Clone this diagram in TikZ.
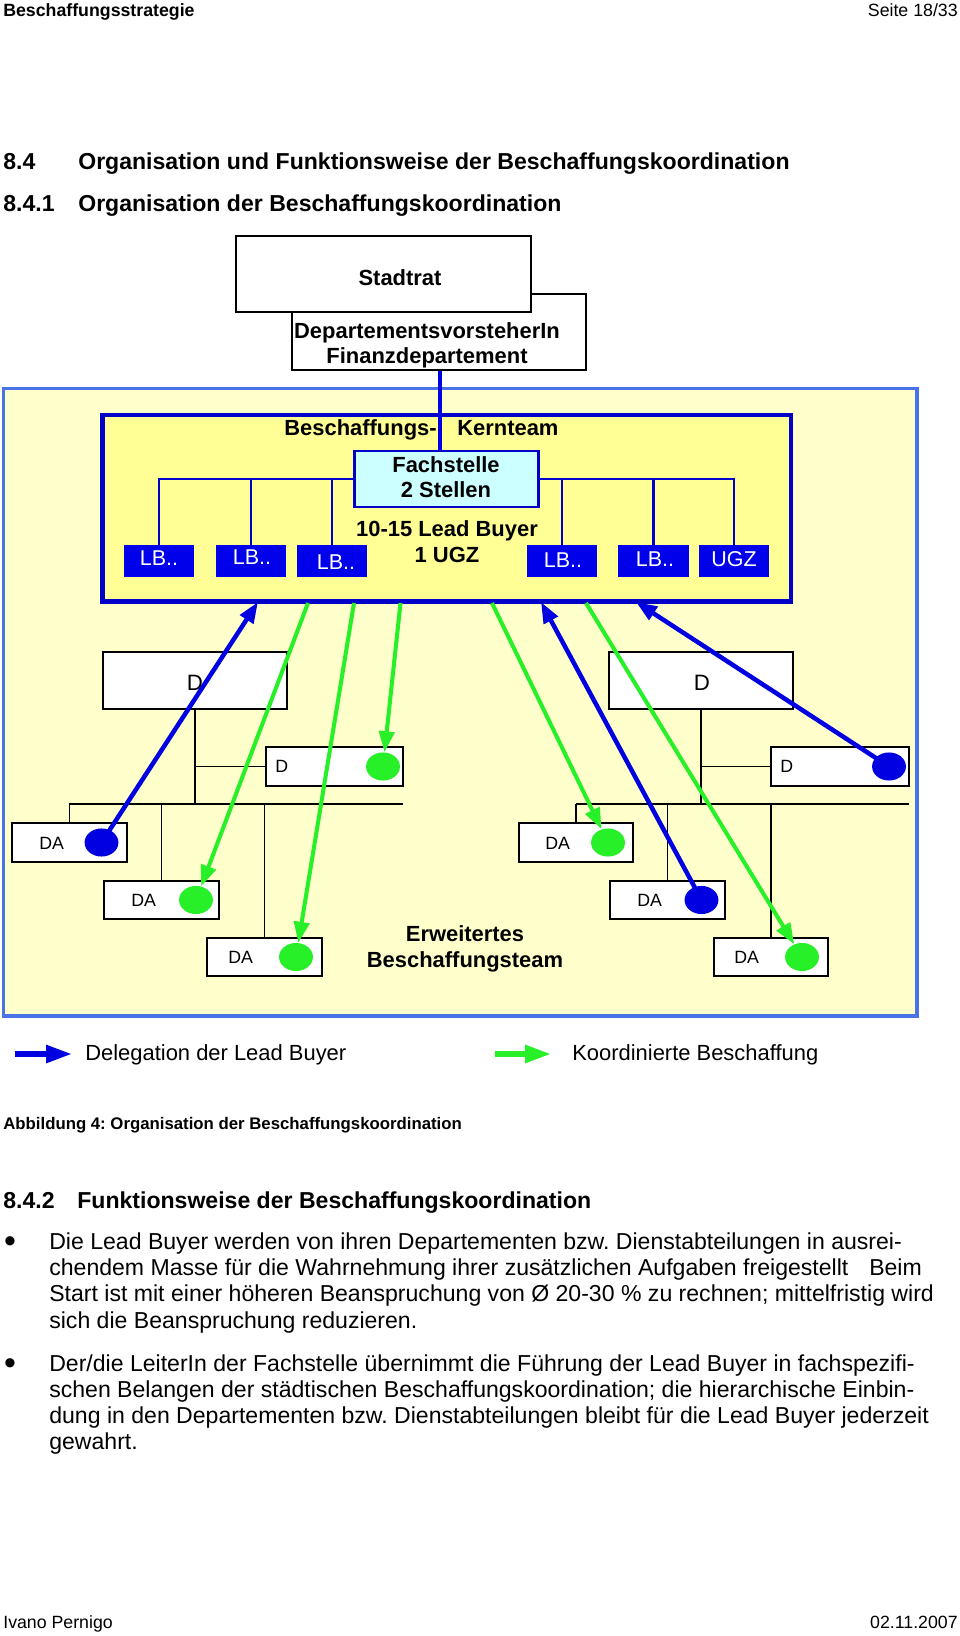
\documentclass[tikz,border=0pt]{standalone}
\usepackage{fontspec}
\setmainfont{Liberation Sans}
\usetikzlibrary{arrows.meta,shapes.geometric,fit}
\definecolor{outerfill}{RGB}{255,255,204}
\definecolor{innerfill}{RGB}{255,255,150}
\definecolor{outerline}{RGB}{75,115,232}
\definecolor{dblue}{RGB}{0,0,200}
\definecolor{lbblue}{RGB}{0,0,235}
\definecolor{fachfill}{RGB}{204,255,255}
\definecolor{lgreen}{RGB}{40,240,40}
\definecolor{cblue}{RGB}{0,0,225}
\newcommand\myfs[1]{\fontsize{#1pt}{#1pt}\selectfont}
\begin{document}
\frenchspacing
\begin{tikzpicture}[x=0.62pt,y=-0.62pt,
  txt/.style={inner sep=0pt, text height=0.72em, text depth=0pt},
  hdr/.style={txt, font=\myfs{11}},
  hdrb/.style={txt, font=\myfs{11}\bfseries},
  head/.style={txt, anchor=west, font=\myfs{14.3}\bfseries},
  body/.style={txt, anchor=west, font=\myfs{14.3}},
  btxt/.style={txt, font=\myfs{13.6}\bfseries},
  outerbox/.style={draw=outerline, fill=outerfill, line width=2.2pt, inner sep=0pt},
  kernbox/.style={draw=dblue, fill=innerfill, line width=2.8pt, inner sep=0pt},
  fachbox/.style={draw=dblue, fill=fachfill, line width=1.5pt, inner sep=0pt},
  lbbox/.style={fill=lbblue, inner sep=0pt},
  lbtxt/.style={txt, text=white, font=\myfs{13.3}},
  wbox/.style={draw=black, fill=white, line width=1.2pt, inner sep=0pt},
  kline/.style={draw=dblue, line width=1.5pt},
  bline/.style={draw=cblue, line width=3pt},
  oline/.style={draw=black, line width=1.1pt},
  dot/.style={ellipse, minimum width=21pt, minimum height=17.4pt, inner sep=0pt},
  bdot/.style={dot, fill=cblue},
  gdot/.style={dot, fill=lgreen},
  barrow/.style={draw=cblue, line width=2.8pt, -{Triangle[length=13pt,width=9.5pt]}},
  garrow/.style={draw=lgreen, line width=2.5pt, -{Triangle[length=13pt,width=9.5pt]}},
  legb/.style={draw=cblue, line width=3.4pt, -{Triangle[length=16pt,width=10.5pt]}},
  legg/.style={draw=lgreen, line width=3.4pt, -{Triangle[length=16pt,width=10.5pt]}},
  dlab/.style={txt, anchor=west, font=\myfs{11}},
  Dlab/.style={txt, font=\myfs{13.8}},
  bullet/.style={inner sep=0pt, font=\myfs{21}}
]
\useasboundingbox (0,0) rectangle (960,1636);
\fill[white] (0,0) rectangle (960,1636);

% page header
\node[hdrb, anchor=west] (hl) at (3,10.5) {Beschaffungsstrategie};
\node[hdr, anchor=east] (hr) at (958,10.5) {Seite 18/33};

% headings
\node[head] (h1n) at (3,164) {8.4};
\node[head] (h1t) at (78,164) {Organisation und Funktionsweise der Beschaffungskoordination};
\node[head] (h2n) at (3,206) {8.4.1};
\node[head] (h2t) at (78,206) {Organisation der Beschaffungskoordination};

% diagram frame
\node[outerbox, fit={(3.5,388.5)(917,1016)}] (outer) {};

% top boxes
\node[wbox, fit={(292,294)(586,370)}] (dep) {};
\node[wbox, fit={(236,236)(531,312)}] (stadt) {};
\node[btxt] (stadtt) at (400,280) {Stadtrat};
\node[btxt] (dept1) at (427,333) {DepartementsvorsteherIn};
\node[btxt] (dept2) at (427,358) {Finanzdepartement};

% Kernteam
\node[kernbox, fit={(102.5,415)(791,601.5)}] (kern) {};
\node[btxt, anchor=west] (kt1) at (284,430) {Beschaffungs-};
\node[btxt, anchor=west] (kt2) at (457,430) {Kernteam};
\node[fachbox, fit={(354.5,451)(538.5,507)}] (fach) {};
\node[btxt] (fach1) at (446,467) {Fachstelle};
\node[btxt] (fach2) at (446,492) {2 Stellen};
\node[btxt] (lead1) at (447,531) {10-15 Lead Buyer};
\node[btxt] (lead2) at (447,557) {1 UGZ};

\coordinate (vx) at (440,0);
\draw[bline] (dep.south -| vx) -- (fach.north -| vx);

\node[lbbox, fit={(124,545)(194,577)}] (lb1) {};
\node[lbbox, fit={(216,545)(286,577)}] (lb2) {};
\node[lbbox, fit={(297,545)(367,577)}] (lb3) {};
\node[lbbox, fit={(527,545)(597,577)}] (lb4) {};
\node[lbbox, fit={(618,545)(689,577)}] (lb5) {};
\node[lbbox, fit={(699,545)(769,577)}] (lb6) {};
\node[lbtxt] (lb1t) at (159,560) {LB..};
\node[lbtxt] (lb2t) at (252,559) {LB..};
\node[lbtxt] (lb3t) at (336,564) {LB..};
\node[lbtxt] (lb4t) at (563,562) {LB..};
\node[lbtxt] (lb5t) at (655,561) {LB..};
\node[lbtxt] (lb6t) at (734,561) {UGZ};
\draw[kline] (lb1.north) |- (fach.west);
\draw[kline] (lb2.north) |- (fach.west);
\draw[kline] (lb3.north) |- (fach.west);
\draw[kline] (lb4.north) |- (fach.east);
\draw[kline] (lb5.north) |- (fach.east);
\draw[kline] (lb6.north) |- (fach.east);

% departement structures, left
\node[wbox, fit={(103,652)(287,709)}] (dl) {};
\node[Dlab] (dlt) at (195,685) {D};
\node[wbox, fit={(266,747)(403,786)}] (sdl) {};
\node[dlab] (sdlt) at (275,767) {D};
\node[wbox, fit={(12,823)(127,862)}] (da1) {};
\node[wbox, fit={(104,881)(219,919)}] (da2) {};
\node[wbox, fit={(207,938)(322,976)}] (da3) {};
\node[dlab] (da1t) at (39,844) {DA};
\node[dlab] (da2t) at (131,901) {DA};
\node[dlab] (da3t) at (228,958) {DA};
\coordinate (hlL) at (69,804);
\coordinate (hlR) at (403,804);
\draw[oline] (hlL) -- (hlR);
\draw[oline] (dl.south) -- (dl.south |- hlL);
\draw[oline] (dl.south |- sdl.west) -- (sdl.west);
\draw[oline] (da1.north |- hlL) -- (da1.north);
\draw[oline] (da2.north |- hlL) -- (da2.north);
\draw[oline] (da3.north |- hlL) -- (da3.north);

% departement structures, right
\node[wbox, fit={(609,652)(793,709)}] (dr) {};
\node[Dlab] (drt) at (702,685) {D};
\node[wbox, fit={(771,747)(909,786)}] (sdr) {};
\node[dlab] (sdrt) at (780,767) {D};
\node[wbox, fit={(519,823)(633,862)}] (da4) {};
\node[wbox, fit={(610,881)(725,919)}] (da5) {};
\node[wbox, fit={(714,938)(828,976)}] (da6) {};
\node[dlab] (da4t) at (545,844) {DA};
\node[dlab] (da5t) at (637,901) {DA};
\node[dlab] (da6t) at (734,958) {DA};
\coordinate (hrL) at (576,804);
\coordinate (hrR) at (909,804);
\draw[oline] (hrL) -- (hrR);
\draw[oline] (dr.south) -- (dr.south |- hrL);
\draw[oline] (dr.south |- sdr.west) -- (sdr.west);
\draw[oline] (da4.north |- hrL) -- (da4.north);
\draw[oline] (da5.north |- hrL) -- (da5.north);
\draw[oline] (da6.north |- hrL) -- (da6.north);

\node[btxt] (erw1) at (465,936) {Erweitertes};
\node[btxt] (erw2) at (465,962) {Beschaffungsteam};

% dots
\node[bdot] (c1) at (101.5,842.5) {};
\node[gdot] (c2) at (196,900) {};
\node[gdot] (c3) at (296,957) {};
\node[gdot] (cs1) at (383,766.5) {};
\node[gdot] (c4) at (608,842.5) {};
\node[bdot] (c5) at (701.5,900) {};
\node[gdot] (c6) at (802,957) {};
\node[bdot] (cs2) at (889,766.5) {};

% arrows
\coordinate (bt1) at (258,602);
\coordinate (bt2) at (541,602);
\coordinate (bt3) at (636,602);
\draw[barrow] (c1.center) -- (bt1);
\draw[barrow] (c5.center) -- (bt2);
\draw[barrow] (cs2.center) -- (bt3);
\coordinate (gs1) at (308,603);
\coordinate (gs2) at (354,603);
\coordinate (gs3) at (400.5,603);
\coordinate (gs4) at (492,603);
\coordinate (gs5) at (586,603);
\draw[garrow] (gs1) -- (c2);
\draw[garrow] (gs2) -- (c3);
\draw[garrow] (gs3) -- (cs1);
\draw[garrow] (gs4) -- (c4);
\draw[garrow] (gs5) -- (c6);

% legend
\coordinate (lgb1) at (15,1054);
\coordinate (lgb2) at (72,1054);
\draw[legb] (lgb1) -- (lgb2);
\node[txt, anchor=west, font=\myfs{13.6}] (legbt) at (85,1055) {Delegation der Lead Buyer};
\coordinate (lgg1) at (495,1054);
\coordinate (lgg2) at (551,1054);
\draw[legg] (lgg1) -- (lgg2);
\node[txt, anchor=west, font=\myfs{13.6}] (leggt) at (572,1055) {Koordinierte Beschaffung};

% caption
\node[txt, anchor=west, font=\myfs{10.4}\bfseries] (cap) at (3,1124) {Abbildung 4: Organisation der Beschaffungskoordination};

% section 8.4.2
\node[head] (h3n) at (3,1203) {8.4.2};
\node[head] (h3t) at (77,1203) {Funktionsweise der Beschaffungskoordination};

\node[bullet] (bu1) at (10,1245) {•};
\node[body] (p1) at (49,1244) {Die Lead Buyer werden von ihren Departementen bzw. Dienstabteilungen in ausrei-};
\node[body] (p2) at (49,1270) {chendem Masse für die Wahrnehmung ihrer zusätzlichen Aufgaben freigestellt\hspace{9pt} Beim};
\node[body] (p3) at (49,1296) {Start ist mit einer höheren Beanspruchung von Ø 20-30 \% zu rechnen; mittelfristig wird};
\node[body] (p4) at (49,1323) {sich die Beanspruchung reduzieren.};

\node[bullet] (bu2) at (10,1367) {•};
\node[body] (q1) at (49,1366) {Der/die LeiterIn der Fachstelle übernimmt die Führung der Lead Buyer in fachspezifi-};
\node[body] (q2) at (49,1392) {schen Belangen der städtischen Beschaffungskoordination; die hierarchische Einbin-};
\node[body] (q3) at (49,1418) {dung in den Departementen bzw. Dienstabteilungen bleibt für die Lead Buyer jederzeit};
\node[body] (q4) at (49,1444) {gewahrt.};

% footer
\node[hdr, anchor=west] (fl) at (3,1623) {Ivano Pernigo};
\node[hdr, anchor=east] (fr) at (958,1623) {02.11.2007};
\end{tikzpicture}
\end{document}
